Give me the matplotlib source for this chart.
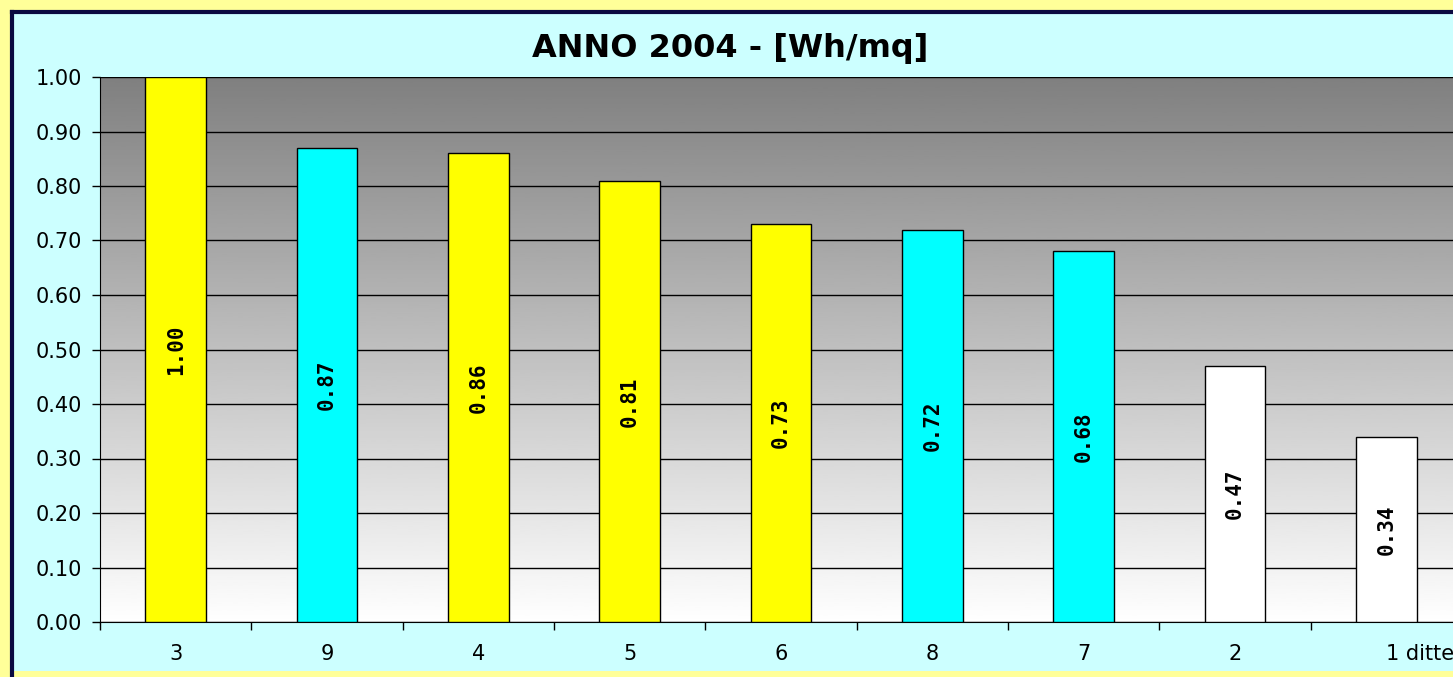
import numpy as np
import matplotlib.pyplot as plt
from matplotlib.patches import Rectangle
from matplotlib.lines import Line2D

# data
categories = ['3', '9', '4', '5', '6', '8', '7', '2', '1 ditte']
values = [1.00, 0.87, 0.86, 0.81, 0.73, 0.72, 0.68, 0.47, 0.34]
bar_colors = ['#FFFF00', '#00FFFF', '#FFFF00', '#FFFF00', '#FFFF00',
              '#00FFFF', '#00FFFF', '#FFFFFF', '#FFFFFF']
yticks = np.arange(0, 1.01, 0.1)

W, H = 1453, 677
fig = plt.figure(figsize=(W / 100, H / 100), dpi=100)
fig.patch.set_facecolor('#FFFF99')

# cyan chart panel with navy top/left border
fig.patches.append(Rectangle((12 / W, 6 / H), 1.0, 1 - 18 / H,
                             transform=fig.transFigure, facecolor='#CCFFFF',
                             edgecolor='none', zorder=-5))
fig.lines.append(Line2D([12 / W, 12 / W], [0, 1 - 12 / H], transform=fig.transFigure,
                        color='#0A0A40', lw=3, zorder=-4))
fig.lines.append(Line2D([12 / W, 1.0], [1 - 12 / H, 1 - 12 / H], transform=fig.transFigure,
                        color='#0A0A40', lw=3, zorder=-4))

left, right = 100 / W, 1462 / W
bottom, top = (H - 622) / H, (H - 77) / H
ax = fig.add_axes([left, bottom, right - left, top - bottom])

# gray (top) to white (bottom) gradient background
grad = np.linspace(0, 1, 256).reshape(-1, 1)
ax.imshow(grad, cmap='gray', vmin=-1.0, vmax=1.0, aspect='auto',
          extent=[0, 1, 0, 1], transform=ax.transAxes, zorder=0)

x = np.arange(len(categories))
ax.bar(x, values, width=0.4, color=bar_colors, edgecolor='black', lw=1, zorder=3)
for xi, v in zip(x, values):
    ax.text(xi, v / 2, '%.2f' % v, rotation=90, ha='center', va='center',
            fontsize=15, fontweight='bold', family='DejaVu Sans Mono', zorder=4)

ax.set_xlim(-0.5, len(categories) - 0.5)
ax.set_ylim(0, 1.0)
ax.set_yticks(yticks)
ax.set_yticklabels(['%.2f' % t for t in yticks], fontsize=15)
for t in yticks:
    ax.axhline(t, color='black', lw=1, zorder=1)

ax.set_xticks(x)
ax.set_xticklabels(categories, fontsize=15)
ax.get_xticklabels()[-1].set_ha('left')
ax.set_xticks(np.arange(len(categories)) - 0.5, minor=True)
ax.tick_params(axis='x', which='major', length=0, pad=16)
ax.tick_params(axis='x', which='minor', length=6, width=1)
ax.tick_params(axis='y', length=6, width=1, pad=7)
for s in ['top', 'right']:
    ax.spines[s].set_visible(False)

fig.text(730 / W, 1 - 49 / H, 'ANNO 2004 - [Wh/mq]', ha='center', va='center',
         fontsize=23, fontweight='bold')

fig.savefig('out.png', dpi=100, facecolor=fig.get_facecolor())
